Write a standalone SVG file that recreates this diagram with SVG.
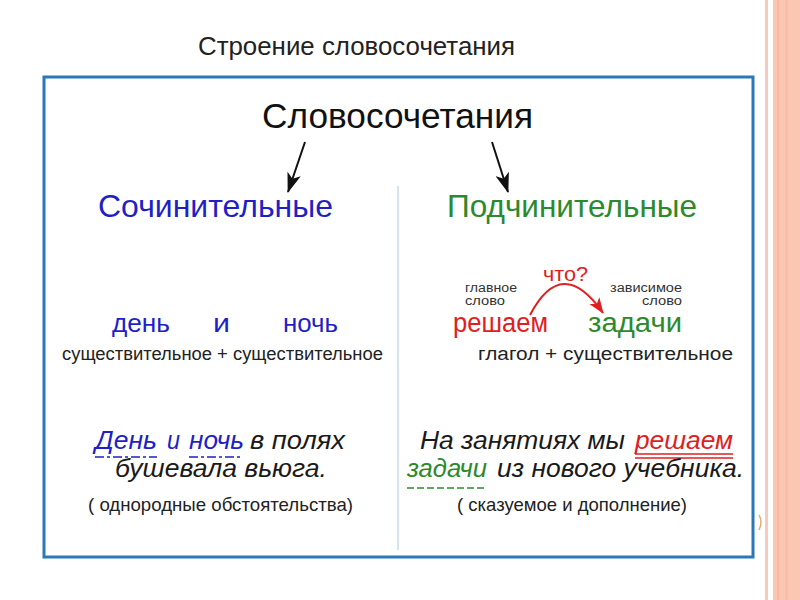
<svg xmlns="http://www.w3.org/2000/svg" width="800" height="600" viewBox="0 0 800 600">
<defs>
<style>
text{font-family:"Liberation Sans",Arial,sans-serif}
.sans{fill:#222}
.it{font-style:italic;fill:#1a1a1a}
.blue{fill:#1f1fc8}
.green{fill:#2b8a2b}
.red{fill:#e02020}
.small{font-size:12px;fill:#333}
.lbl{font-size:18px;fill:#222}
.conn{stroke:#111;stroke-width:2;fill:none}
</style>
<marker id="ah" viewBox="0 0 20 14" refX="19" refY="7" markerWidth="20" markerHeight="14" markerUnits="userSpaceOnUse" orient="auto">
<path d="M0,0 L20,7 L0,14 L5,7 Z" fill="#111"/>
</marker>
<marker id="ahr" viewBox="0 0 16 12" refX="15" refY="6" markerWidth="16" markerHeight="12" markerUnits="userSpaceOnUse" orient="auto">
<path d="M0,0 L16,6 L0,12 L4,6 Z" fill="#e02020"/>
</marker>
</defs>
<rect width="800" height="600" fill="#ffffff"/>
<g id="decor">
<rect x="765" y="0" width="3" height="600" fill="#f6cbbd"/>
<rect x="773" y="0" width="27" height="600" fill="#fcc7b2"/>
<rect x="777" y="0" width="2" height="600" fill="#f7b9a2"/>
<rect x="785" y="0" width="3" height="600" fill="#f9bea8"/>
<path d="M759,515 Q763,522 759,530" stroke="#e8a870" stroke-width="1.5" fill="none"/>
</g>
<text id="title" x="198" y="55" font-size="25" class="sans" textLength="317" lengthAdjust="spacingAndGlyphs">Строение словосочетания</text>
<rect id="frame" x="44" y="77" width="709" height="480" fill="none" stroke="#2a78b8" stroke-width="3"/>
<line id="divider" x1="398" y1="186" x2="398" y2="550" stroke="#b9d3e6" stroke-width="1.2"/>
<g id="root"><text x="262" y="128" font-size="35" fill="#111" textLength="271" lengthAdjust="spacingAndGlyphs">Словосочетания</text></g>
<g id="connectors">
<line class="conn" x1="305" y1="142" x2="288" y2="192" marker-end="url(#ah)"/>
<line class="conn" x1="492" y1="142" x2="508" y2="192" marker-end="url(#ah)"/>
</g>
<g id="coord">
<text x="98" y="217" font-size="32" class="blue" textLength="235" lengthAdjust="spacingAndGlyphs">Сочинительные</text>
<text x="112" y="332" font-size="26" class="blue" textLength="58" lengthAdjust="spacingAndGlyphs">день</text>
<text x="213" y="332" font-size="26" class="blue" textLength="17" lengthAdjust="spacingAndGlyphs">и</text>
<text x="283" y="332" font-size="26" class="blue" textLength="55" lengthAdjust="spacingAndGlyphs">ночь</text>
<text x="62" y="360" class="lbl" textLength="321" lengthAdjust="spacingAndGlyphs">существительное  +  существительное</text>
<text x="95" y="449" font-size="26" class="it blue" textLength="62" lengthAdjust="spacingAndGlyphs">День</text>
<text x="167" y="449" font-size="26" class="it blue" textLength="13" lengthAdjust="spacingAndGlyphs">и</text>
<text x="189" y="449" font-size="26" class="it blue" textLength="55" lengthAdjust="spacingAndGlyphs">ночь</text>
<text x="250" y="449" font-size="26" class="it" textLength="95" lengthAdjust="spacingAndGlyphs">в полях</text>
<text x="115" y="477" font-size="26" class="it" textLength="212" lengthAdjust="spacingAndGlyphs">бушевала вьюга.</text>
<g stroke="#1f1fc8" stroke-width="1.4" fill="none">
<path d="M95,457 H157" stroke-dasharray="9,3,3,3"/>
<path d="M189,457 H243" stroke-dasharray="9,3,3,3"/>
</g>
<text x="88" y="511" font-size="18.5" class="sans" textLength="265" lengthAdjust="spacingAndGlyphs">( однородные обстоятельства)</text>
</g>
<g id="subord">
<text x="447" y="217" font-size="32" class="green" textLength="250" lengthAdjust="spacingAndGlyphs">Подчинительные</text>
<text x="465" y="292" class="small" textLength="52" lengthAdjust="spacingAndGlyphs">главное</text>
<text x="465" y="305" class="small" textLength="40" lengthAdjust="spacingAndGlyphs">слово</text>
<text x="610" y="292" class="small" textLength="72" lengthAdjust="spacingAndGlyphs">зависимое</text>
<text x="642" y="305" class="small" textLength="40" lengthAdjust="spacingAndGlyphs">слово</text>
<text x="543" y="281" font-size="21" class="red" textLength="45" lengthAdjust="spacingAndGlyphs">что?</text>
<path d="M530,315 Q562,254 603,313" stroke="#e02020" stroke-width="2" fill="none" marker-end="url(#ahr)"/>
<text x="453" y="332" font-size="27" class="red" textLength="95" lengthAdjust="spacingAndGlyphs">решаем</text>
<text x="588" y="332" font-size="27" class="green" textLength="94" lengthAdjust="spacingAndGlyphs">задачи</text>
<text x="478" y="360" class="lbl" textLength="255" lengthAdjust="spacingAndGlyphs">глагол  +  существительное</text>
<text x="420" y="449" font-size="26" class="it" textLength="205" lengthAdjust="spacingAndGlyphs">На занятиях мы</text>
<text x="635" y="449" font-size="26" class="it red" textLength="98" lengthAdjust="spacingAndGlyphs">решаем</text>
<path d="M635,454 H733 M635,458 H733" stroke="#e02020" stroke-width="1.4" fill="none"/>
<text x="407" y="477" font-size="26" class="it green" textLength="80" lengthAdjust="spacingAndGlyphs">задачи</text>
<text x="497" y="477" font-size="26" class="it" textLength="247" lengthAdjust="spacingAndGlyphs">из нового учебника.</text>
<path d="M407,488 H485" stroke="#2b8a2b" stroke-width="1.4" stroke-dasharray="7,3" fill="none"/>
<text x="457" y="511" font-size="18.5" class="sans" textLength="230" lengthAdjust="spacingAndGlyphs">( сказуемое и дополнение)</text>
</g>
</svg>
